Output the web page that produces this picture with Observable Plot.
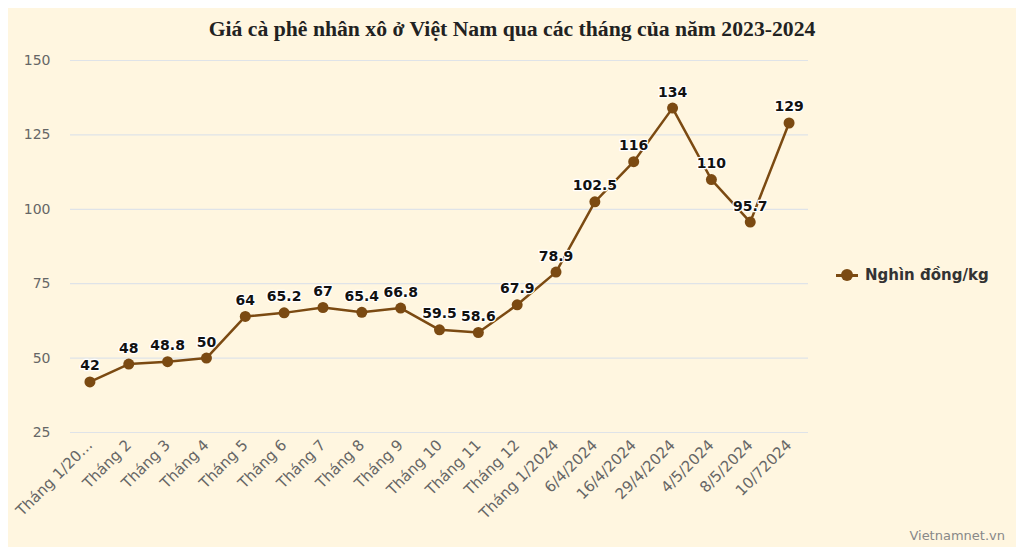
<!DOCTYPE html>
<html>
<head>
<meta charset="utf-8">
<script src="https://cdn.jsdelivr.net/npm/d3@7"></script>
<script src="https://cdn.jsdelivr.net/npm/@observablehq/plot@0.6"></script>
<style>
  html, body { margin: 0; padding: 0; background: #ffffff; width: 1024px; height: 555px; overflow: hidden; }
  #frame { position: absolute; left: 8px; top: 8px; width: 1008px; height: 539px; background: #fff6e0; }
  #title { position: absolute; left: 0; top: 9px; width: 1008px; text-align: center;
           font-family: "Liberation Serif", serif; font-weight: bold; font-size: 21.7px; color: #222; }
  #chart { position: absolute; left: 0; top: 40px; }
  #legend { position: absolute; left: 828px; top: 258px; display: flex; align-items: center;
            font-family: "DejaVu Sans", sans-serif; font-weight: bold; font-size: 15px; color: #333; }
  #legend .sw { position: relative; width: 22px; height: 12px; margin-right: 7px; }
  #legend .sw .ln { position: absolute; left: 0; top: 5px; width: 22px; height: 2.5px; background: #7b4a12; }
  #legend .sw .dt { position: absolute; left: 5px; top: 0; width: 12px; height: 12px; border-radius: 50%; background: #7b4a12; }
  #credit { position: absolute; right: 11px; top: 520px; font-family: "DejaVu Sans", sans-serif; font-size: 13px; color: #888; }
</style>
</head>
<body>
<div id="frame">
  <div id="title">Giá cà phê nhân xô ở Việt Nam qua các tháng của năm 2023-2024</div>
  <div id="chart"></div>
  <div id="legend"><div class="sw"><div class="ln"></div><div class="dt"></div></div><span>Nghìn đồng/kg</span></div>
  <div id="credit">Vietnamnet.vn</div>
</div>
<script>
const categories = ["Tháng 1/2023","Tháng 2","Tháng 3","Tháng 4","Tháng 5","Tháng 6","Tháng 7","Tháng 8","Tháng 9","Tháng 10","Tháng 11","Tháng 12","Tháng 1/2024","6/4/2024","16/4/2024","29/4/2024","4/5/2024","8/5/2024","10/72024"];
const tickLabels = ["Tháng 1/20…","Tháng 2","Tháng 3","Tháng 4","Tháng 5","Tháng 6","Tháng 7","Tháng 8","Tháng 9","Tháng 10","Tháng 11","Tháng 12","Tháng 1/2024","6/4/2024","16/4/2024","29/4/2024","4/5/2024","8/5/2024","10/72024"];
const prices = [42, 48, 48.8, 50, 64, 65.2, 67, 65.4, 66.8, 59.5, 58.6, 67.9, 78.9, 102.5, 116, 134, 110, 95.7, 129];
const yTicks = [25, 50, 75, 100, 125, 150];

const data = categories.map((c, i) => ({cat: c, value: prices[i], label: tickLabels[i]}));
const labelOf = new Map(data.map(d => [d.cat, d.label]));
const color = "#7b4a12";

const chart = Plot.plot({
  width: 1008,
  height: 499,
  marginLeft: 62,
  marginRight: 208,
  marginTop: 12,
  marginBottom: 115,
  style: {background: "transparent", fontFamily: "DejaVu Sans, sans-serif", fontSize: "13px", color: "#666"},
  x: {type: "point", domain: categories, padding: 0.5, round: false},
  y: {domain: [25, 150]},
  marks: [
    Plot.gridY(yTicks, {stroke: "#dfe3e8", strokeOpacity: 1, strokeWidth: 1.2}),
    Plot.axisY(yTicks, {tickSize: 0, tickPadding: 20, fontSize: 14, fill: "#666", label: null}),
    Plot.axisX({tickSize: 0, tickPadding: 10, tickRotate: -45, fontSize: 15, fill: "#666", label: null,
                tickFormat: d => labelOf.get(d)}),
    Plot.line(data, {x: "cat", y: "value", stroke: color, strokeWidth: 2.5}),
    Plot.dot(data, {x: "cat", y: "value", r: 5.5, fill: color}),
    Plot.text(data, {x: "cat", y: "value", text: d => String(d.value), dy: -16,
                     fill: "#111", stroke: "white", strokeWidth: 2.5, fontWeight: "bold", fontSize: 14})
  ]
});
document.getElementById("chart").appendChild(chart);
</script>
</body>
</html>
